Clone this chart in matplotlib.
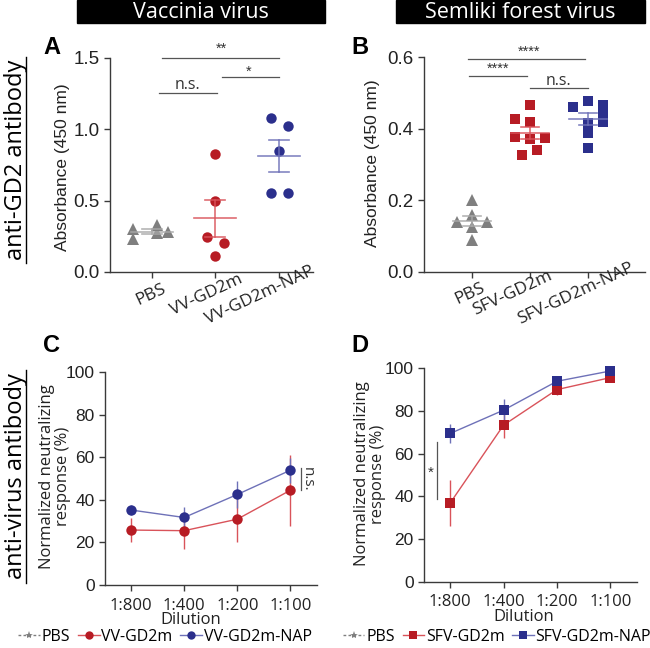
import matplotlib
matplotlib.use('Agg')
import matplotlib.pyplot as plt
from matplotlib.lines import Line2D
from matplotlib.patches import Rectangle
import numpy as np

# ---------------- data ----------------
a_groups = ['PBS', 'VV-GD2m', 'VV-GD2m-NAP']
a_pbs = [0.30, 0.23, 0.33, 0.27, 0.28]
a_vv = [0.825, 0.497, 0.246, 0.206, 0.113]
a_nap = [1.078, 1.022, 0.848, 0.551, 0.551]

b_groups = ['PBS', 'SFV-GD2m', 'SFV-GD2m-NAP']
b_pbs = [0.200, 0.160, 0.140, 0.140, 0.126, 0.089]
b_sfv = [0.467, 0.428, 0.418, 0.378, 0.375, 0.371, 0.341, 0.327]
b_nap = [0.460, 0.476, 0.467, 0.444, 0.420, 0.416, 0.388, 0.346]

dilutions = ['1:800', '1:400', '1:200', '1:100']
c_vv_mean = [25.8, 25.5, 30.9, 44.5]
c_vv_sem = [5.6, 8.6, 10.6, 16.7]
c_nap_mean = [35.2, 31.7, 42.5, 53.9]
c_nap_sem = [2.5, 5.0, 6.3, 5.8]
d_sfv_mean = [36.9, 73.3, 89.9, 95.5]
d_sfv_sem = [10.8, 5.8, 2.6, 1.0]
d_nap_mean = [69.4, 80.3, 93.8, 98.6]
d_nap_sem = [4.3, 5.0, 1.0, 0.8]

# ---------------- layout / style ----------------
jit_a = [[-0.29, -0.29, 0.08, 0.08, 0.26],
         [0, 0, -0.13, 0.14, 0],
         [-0.12, 0.14, 0, -0.12, 0.14]]
jit_b = [[0, 0, -0.26, 0.26, 0, 0],
         [0, -0.26, 0, -0.26, 0.26, 0, 0.12, -0.14],
         [-0.26, 0, 0.26, 0.26, 0.26, 0, 0, 0]]
# horizontal shift of the rotated category labels (category units)
lab_shift_a = [-0.02, -0.14, -0.30]
lab_shift_b = [-0.04, -0.31, -0.22]

RED = '#B71C24'
BLUE = '#2B2F8C'
GRAY = '#7F7F7F'
RED_L = '#D9535A'
BLUE_L = '#6E71B8'
GRAY_L = '#A8A8A8'
SPINE = '#3A3A3A'
TXT = '#222222'
SANS = ['Liberation Sans', 'DejaVu Sans']
MYR = ['Open Sans', 'DejaVu Sans']

W, H = 650, 648
fig = plt.figure(figsize=(6.5, 6.48), dpi=100)


def fx(px):
    return px / W


def fy(py):
    return 1 - py / H


def make_ax(l, t, r, b):
    ax = fig.add_axes([fx(l), fy(b), fx(r) - fx(l), fy(t) - fy(b)])
    for s in ['top', 'right']:
        ax.spines[s].set_visible(False)
    for s in ['left', 'bottom']:
        ax.spines[s].set_color(SPINE)
        ax.spines[s].set_linewidth(1.0)
    ax.tick_params(direction='out', length=4, width=1, color=SPINE, labelcolor=TXT)
    return ax


def scatter_panel(ax, datas, jits, markers, sizes, colors, lcolors):
    for i, (d, j, m, ms, c, lc) in enumerate(zip(datas, jits, markers, sizes, colors, lcolors)):
        xs = [i + o for o in j]
        ax.plot(xs, d, linestyle='none', marker=m, color=c, ms=ms,
                markeredgewidth=0, zorder=3, clip_on=False)
        arr = np.array(d)
        mean = arr.mean()
        sem = arr.std(ddof=1) / np.sqrt(len(arr))
        kw = dict(color=lc, lw=1.2, zorder=4, alpha=0.85)
        ax.plot([i - 0.33, i + 0.33], [mean, mean], **kw)
        ax.plot([i - 0.16, i + 0.16], [mean + sem, mean + sem], **kw)
        ax.plot([i - 0.16, i + 0.16], [mean - sem, mean - sem], **kw)
        ax.plot([i, i], [mean - sem, mean + sem], **kw)


def cat_labels(ax, groups, shifts, yfrac):
    ax.set_xticks(range(len(groups)))
    ax.set_xticklabels([''] * len(groups))
    tr = ax.get_xaxis_transform()
    for i, (g, s) in enumerate(zip(groups, shifts)):
        ax.text(i + s, yfrac, g, rotation=25, ha='center', va='center',
                rotation_mode='default', fontsize=12.5, family=MYR, color=TXT,
                transform=tr, clip_on=False)


def sig(ax, x0, x1, y, text, tx, ty, size=10.5, fam=SANS):
    ax.plot([x0, x1], [y, y], color='#555555', lw=0.9, clip_on=False)
    ax.text(tx, ty, text, ha='center', va='center', fontsize=size,
            family=fam, color='#333333', clip_on=False)


# ---------------- Panel A ----------------
axA = make_ax(110, 58, 313, 272)
scatter_panel(axA, [a_pbs, a_vv, a_nap], jit_a, ['^', 'o', 'o'], [8.5, 7.5, 7.5],
              [GRAY, RED, BLUE], [GRAY_L, RED_L, BLUE_L])
axA.set_xlim(-0.66, 2.54)
axA.set_ylim(0, 1.5)
axA.set_yticks([0, 0.5, 1.0, 1.5])
axA.set_yticklabels(['0.0', '0.5', '1.0', '1.5'], fontsize=13.5, family=SANS)
cat_labels(axA, a_groups, lab_shift_a, -0.107)
axA.text(-0.235, 0.49, 'Absorbance (450 nm)', rotation=90, ha='center', va='center',
         fontsize=12.5, family=SANS, color=TXT, transform=axA.transAxes)
sig(axA, 0.16, 2.0, 1.5, '**', 1.1, 1.565)
sig(axA, 1.1, 2.0, 1.369, '*', 1.52, 1.405)
sig(axA, 0.11, 1.02, 1.256, 'n.s.', 0.56, 1.31, size=11.5, fam=MYR)

# ---------------- Panel B ----------------
axB = make_ax(424, 57, 645, 272)
scatter_panel(axB, [b_pbs, b_sfv, b_nap], jit_b, ['^', 's', 's'], [8.5, 6.8, 6.8],
              [GRAY, RED, BLUE], [GRAY_L, RED_L, BLUE_L])
axB.set_xlim(-0.83, 2.98)
axB.set_ylim(0, 0.6)
axB.set_yticks([0, 0.2, 0.4, 0.6])
axB.set_yticklabels(['0.0', '0.2', '0.4', '0.6'], fontsize=13.5, family=SANS)
cat_labels(axB, b_groups, lab_shift_b, -0.10)
axB.text(-0.235, 0.507, 'Absorbance (450 nm)', rotation=90, ha='center', va='center',
         fontsize=12.5, family=SANS, color=TXT, transform=axB.transAxes)
sig(axB, -0.07, 1.95, 0.595, '****', 0.98, 0.614)
sig(axB, -0.05, 0.95, 0.548, '****', 0.44, 0.566)
sig(axB, 1.0, 2.0, 0.513, 'n.s.', 1.48, 0.534, size=11.5, fam=MYR)


# ---------------- line panels ----------------
def line_panel(ax, means, sems, marker, ms, colors, lcolors):
    x = np.arange(len(dilutions))
    for m, s, c, lc in zip(means, sems, colors, lcolors):
        ax.errorbar(x, m, yerr=s, color=lc, lw=1.0, elinewidth=1.0, capsize=3.5,
                    capthick=1.0, marker=marker, ms=ms, mfc=c, mec=c, mew=0,
                    zorder=3, clip_on=False)
    ax.set_xlim(-0.49, 3.5)
    ax.set_ylim(0, 100)
    ax.set_yticks([0, 20, 40, 60, 80, 100])
    ax.set_yticklabels(['0', '20', '40', '60', '80', '100'], fontsize=12.5, family=SANS)
    ax.set_xticks(x)
    ax.set_xticklabels(dilutions, fontsize=12, family=MYR)
    ax.tick_params(axis='x', pad=5)


axC = make_ax(105, 372, 317, 585)
line_panel(axC, [c_vv_mean, c_nap_mean], [c_vv_sem, c_nap_sem], 'o', 7.5,
           [RED, BLUE], [RED_L, BLUE_L])
axC.text(0.405, -0.165, 'Dilution', ha='center', va='center', fontsize=12,
         family=MYR, color=TXT, transform=axC.transAxes)
axC.text(-0.236, 0.51, 'Normalized neutralizing\nresponse (%)', rotation=90,
         ha='center', va='center', fontsize=12, family=MYR, linespacing=1.05,
         color=TXT, transform=axC.transAxes)
axC.plot([3.19, 3.19], [44.5, 54.7], color='#555555', lw=0.9, clip_on=False)
axC.text(3.31, 49.5, 'n.s.', rotation=270, ha='center', va='center', fontsize=11,
         family=MYR, color='#333333', clip_on=False)

axD = make_ax(424, 368, 637, 582)
line_panel(axD, [d_sfv_mean, d_nap_mean], [d_sfv_sem, d_nap_sem], 's', 7,
           [RED, BLUE], [RED_L, BLUE_L])
axD.text(0.47, -0.165, 'Dilution', ha='center', va='center', fontsize=12,
         family=MYR, color=TXT, transform=axD.transAxes)
axD.text(-0.254, 0.505, 'Normalized neutralizing\nresponse (%)', rotation=90,
         ha='center', va='center', fontsize=12, family=MYR, linespacing=1.05,
         color=TXT, transform=axD.transAxes)
axD.plot([-0.25, -0.25], [38.6, 65.4], color='#555555', lw=0.9, clip_on=False)
axD.text(-0.36, 51, '*', ha='center', va='center', fontsize=11,
         family=SANS, color='#333333', clip_on=False)


# ---------------- legends ----------------
def legend(x, labels, marker):
    hs = [Line2D([], [], color=GRAY, ls=(0, (2, 1.6)), lw=1, marker='*', ms=6, mew=0),
          Line2D([], [], color=RED_L, lw=1, marker=marker, ms=6, mfc=RED, mec=RED, mew=0),
          Line2D([], [], color=BLUE_L, lw=1, marker=marker, ms=6, mfc=BLUE, mec=BLUE, mew=0)]
    fig.legend(hs, labels, loc='center', bbox_to_anchor=(x, fy(637)), ncol=3,
               frameon=False, handlelength=1.35, handletextpad=0.1,
               columnspacing=0.5, prop={'family': MYR, 'size': 11.5},
               borderaxespad=0, borderpad=0)


legend(fx(165), ['PBS', 'VV-GD2m', 'VV-GD2m-NAP'], 'o')
legend(fx(497), ['PBS', 'SFV-GD2m', 'SFV-GD2m-NAP'], 's')

# ---------------- headers / labels ----------------
for (l, r, t) in [(77, 325, 'Vaccinia virus'), (396, 645, 'Semliki forest virus')]:
    fig.patches.append(Rectangle((fx(l), fy(23)), fx(r) - fx(l), fy(0) - fy(23),
                                 transform=fig.transFigure, color='black', zorder=0))
    fig.text(fx((l + r) / 2), fy(12), t, color='white', ha='center', va='center',
             fontsize=15.5, family=MYR)

for (t, yc, y0, y1) in [('anti-GD2 antibody', 160, 57, 263),
                        ('anti-virus antibody', 476, 370, 583)]:
    fig.text(fx(16), fy(yc), t, rotation=90, ha='center', va='center',
             fontsize=17, family=MYR)
    fig.add_artist(Line2D([fx(26), fx(26)], [fy(y0), fy(y1)], color='black',
                          lw=1.0, transform=fig.transFigure))

for (t, x, y) in [('A', 52, 48), ('B', 360, 47), ('C', 52, 345), ('D', 360, 345)]:
    fig.text(fx(x), fy(y), t, ha='center', va='center', fontsize=17,
             fontweight='bold', family=SANS)

fig.savefig('out.png', dpi=100)
